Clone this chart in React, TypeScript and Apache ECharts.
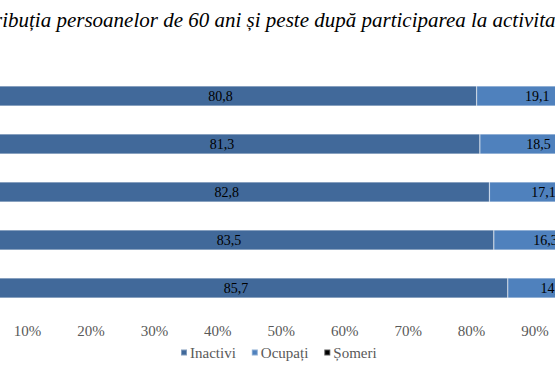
import React, { useEffect, useRef } from "react";
import * as echarts from "echarts";

const categories = ["2019", "2018", "2017", "2016", "2015"];
const inactivi = [85.7, 83.5, 82.8, 81.3, 80.8];
const ocupati = [14.2, 16.3, 17.1, 18.5, 19.1];
const someri = [0.1, 0.2, 0.1, 0.2, 0.1];
const seriesNames = ["Inactivi", "Ocupați", "Șomeri"];
const titleText = "Distribuția persoanelor de 60 ani și peste după participarea la activitatea economică";

const fmt = (p: any) => String(p.value).replace(".", ",");

const OFFSET = 100;
const INNER_W = 860;

export default function App() {
  const ref = useRef<HTMLDivElement>(null);
  useEffect(() => {
    if (!ref.current) return;
    const chart = echarts.init(ref.current, undefined, { renderer: "svg" });
    const serif = "'Liberation Serif', 'Times New Roman', serif";
    const mk = (name: string, data: number[], color: string) => ({
      name,
      type: "bar",
      stack: "total",
      data,
      barWidth: 20,
      itemStyle: { color, borderColor: "rgba(255,255,255,0.35)", borderWidth: 0.6 },
      label: {
        show: true,
        position: "inside",
        formatter: fmt,
        fontFamily: serif,
        fontSize: 14,
        color: "#000",
      },
    });
    chart.setOption({
      animation: false,
      backgroundColor: "#fff",
      title: {
        text: titleText,
        left: OFFSET - 46,
        top: 4,
        textStyle: { fontFamily: serif, fontStyle: "italic", fontWeight: "normal", fontSize: 21, color: "#000" },
      },
      grid: { left: OFFSET - 35.9, right: INNER_W - OFFSET - 598.5, top: 72, bottom: 63 },
      xAxis: {
        type: "value",
        min: 0,
        max: 100,
        interval: 10,
        axisLabel: { formatter: "{value}%", fontFamily: serif, fontSize: 15, color: "#595959", margin: 11 },
        splitLine: { show: false },
        axisLine: { show: false },
        axisTick: { show: false },
      },
      yAxis: {
        type: "category",
        data: categories,
        axisLabel: { show: false },
        axisLine: { show: false },
        axisTick: { show: false },
      },
      legend: {
        data: seriesNames,
        left: OFFSET + 175,
        top: 340,
        icon: "rect",
        itemWidth: 6,
        itemHeight: 6,
        itemGap: 15,
        textStyle: { fontFamily: serif, fontSize: 15, color: "#595959", padding: [0, 0, 0, -2] },
      },
      series: [
        mk(seriesNames[0], inactivi, "#41699A"),
        mk(seriesNames[1], ocupati, "#4F81BD"),
        mk(seriesNames[2], someri, "#000000"),
      ],
    });
    return () => chart.dispose();
  }, []);
  return (
    <div style={{ position: "absolute", left: 0, top: 0, width: 555, height: 375, overflow: "hidden", background: "#fff" }}>
      <div ref={ref} style={{ position: "absolute", left: -OFFSET, top: 0, width: INNER_W, height: 375 }} />
    </div>
  );
}
